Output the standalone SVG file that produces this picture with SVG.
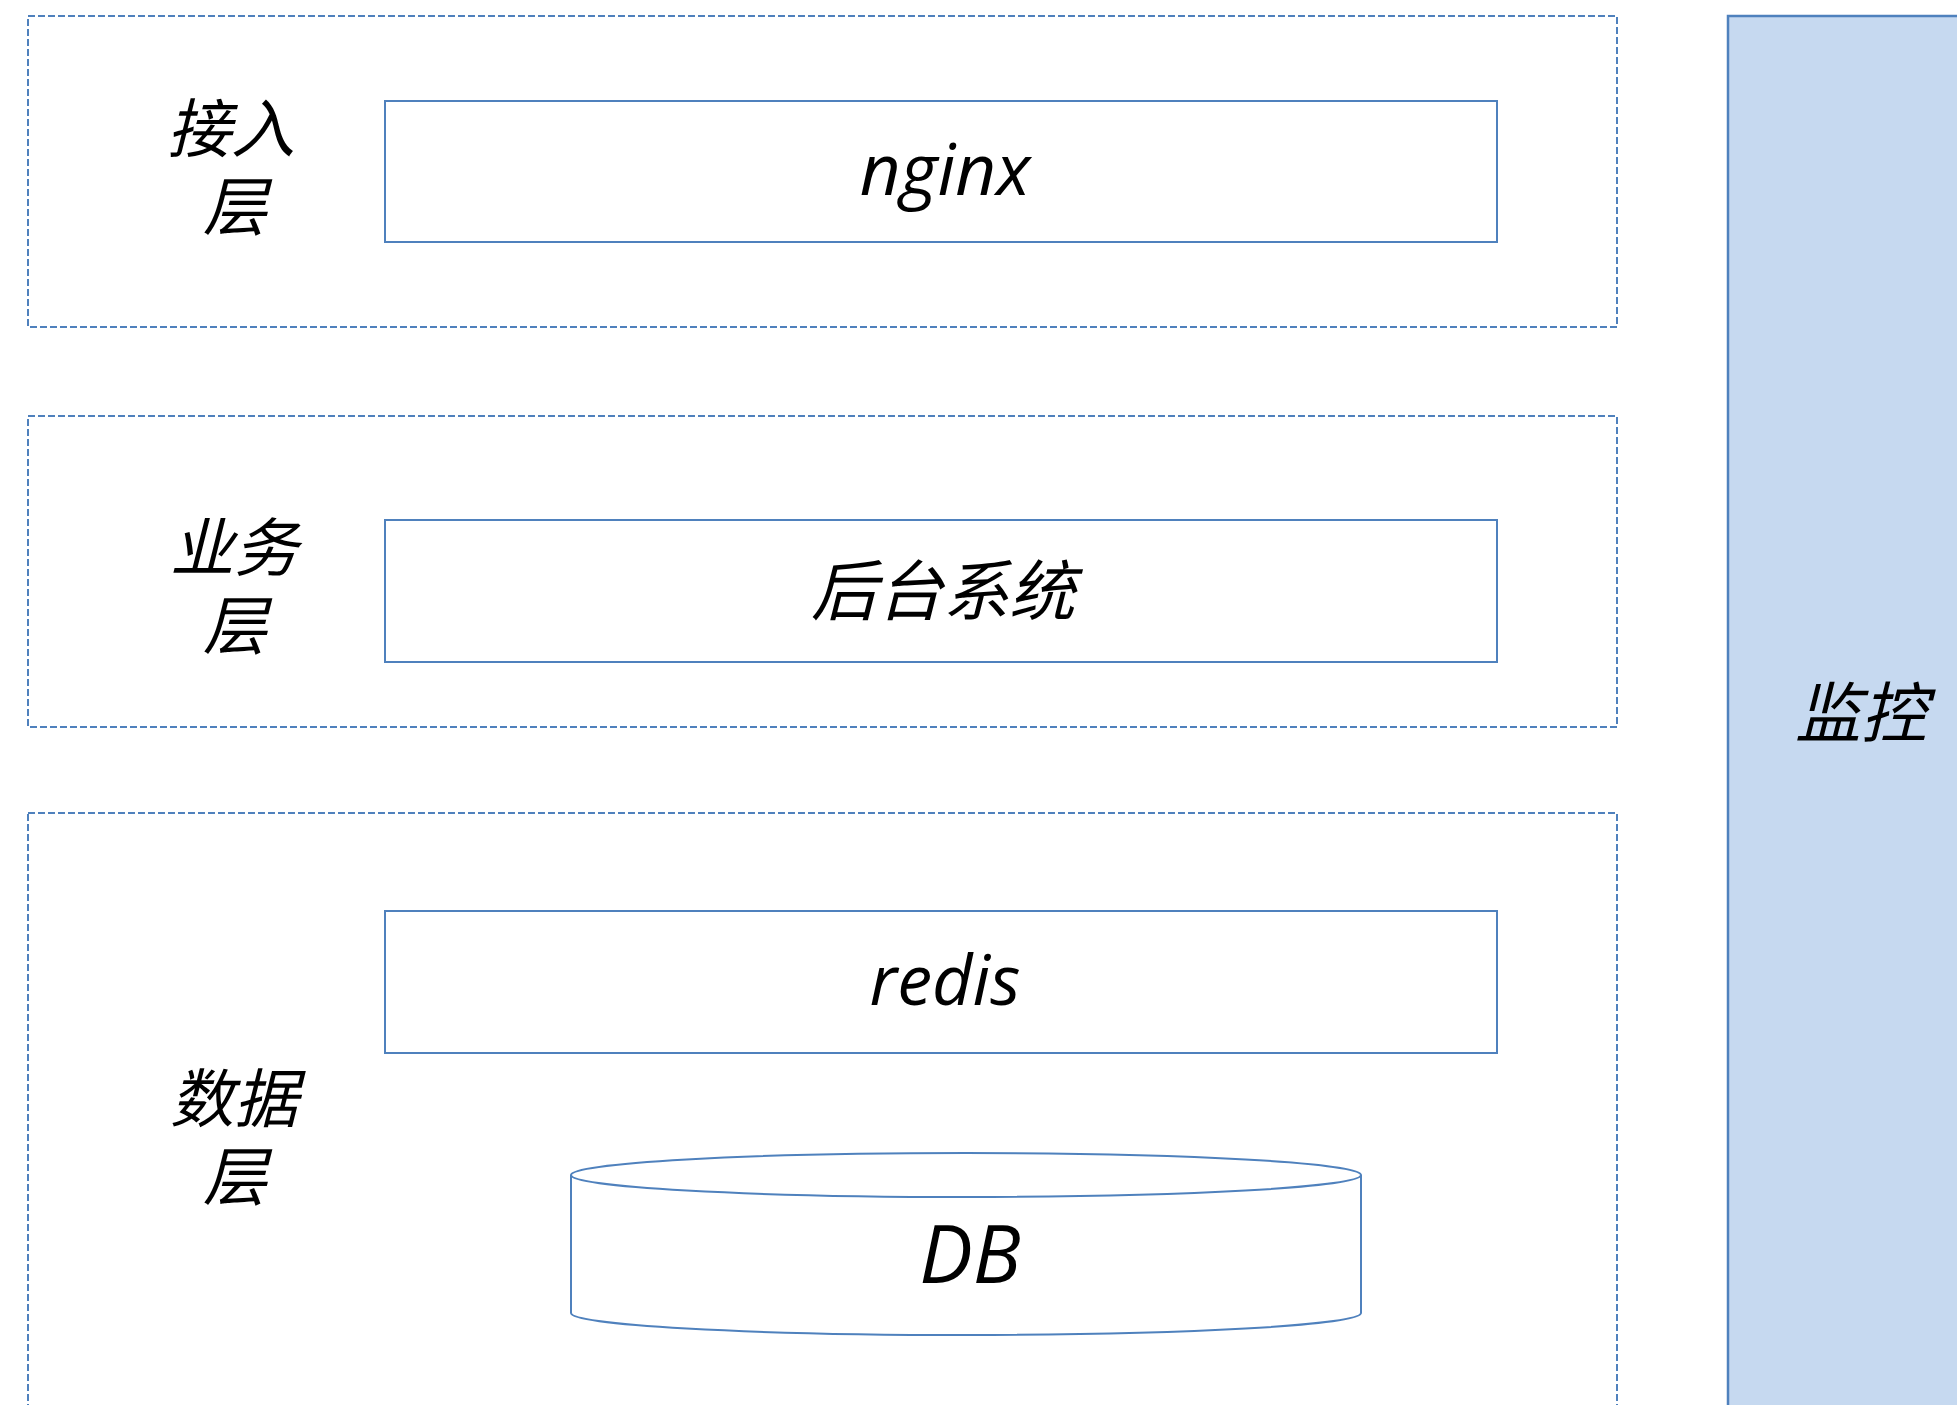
<svg xmlns="http://www.w3.org/2000/svg" width="1957" height="1405" viewBox="0 0 1957 1405">
<style>
.layer{fill:none;stroke:#4F81BD;stroke-width:2;stroke-dasharray:7 3}
.box{fill:#FFFFFF;stroke:#4F81BD;stroke-width:2}
.mon{fill:#C6D9F0;stroke:#4F81BD;stroke-width:2.5}
.t{font-family:"Noto Sans CJK SC","Noto Sans",sans-serif;font-style:italic;fill:#000;text-anchor:middle}
.lt{font-family:"Open Sans","Noto Sans",sans-serif;font-style:italic;fill:#000;text-anchor:middle}
</style>
<rect width="1957" height="1405" fill="#FFFFFF"/>
<g id="layer-access">
<rect class="layer" x="28" y="16" width="1589" height="311"/>
<text class="t" font-size="64"><tspan x="231" y="152">接入</tspan><tspan x="235" y="230">层</tspan></text>
</g>
<g id="layer-business">
<rect class="layer" x="28" y="416" width="1589" height="311"/>
<text class="t" font-size="64"><tspan x="234" y="571">业务</tspan><tspan x="235" y="649">层</tspan></text>
</g>
<g id="layer-data">
<rect class="layer" x="28" y="813" width="1589" height="620"/>
<text class="t" font-size="64"><tspan x="234" y="1122">数据</tspan><tspan x="235" y="1200">层</tspan></text>
</g>
<g id="nginx">
<rect class="box" x="385" y="101" width="1112" height="141"/>
<text class="lt" font-size="71" x="945" y="195">nginx</text>
</g>
<g id="backend">
<rect class="box" x="385" y="520" width="1112" height="142"/>
<text class="t" font-size="66" x="943" y="615">后台系统</text>
</g>
<g id="redis">
<rect class="box" x="385" y="911" width="1112" height="142"/>
<text class="lt" font-size="70" x="945" y="1005">redis</text>
</g>
<g id="db">
<path class="box" d="M571,1175 L571,1313 A395,22 0 0 0 1361,1313 L1361,1175"/>
<ellipse class="box" cx="966" cy="1175" rx="395" ry="22"/>
<text class="lt" font-size="80" x="970" y="1283">DB</text>
</g>
<g id="monitor">
<rect class="mon" x="1728" y="16" width="260" height="1420"/>
<text class="t" font-size="66" x="1861" y="737">监控</text>
</g>
<g id="connectors"></g>
</svg>
